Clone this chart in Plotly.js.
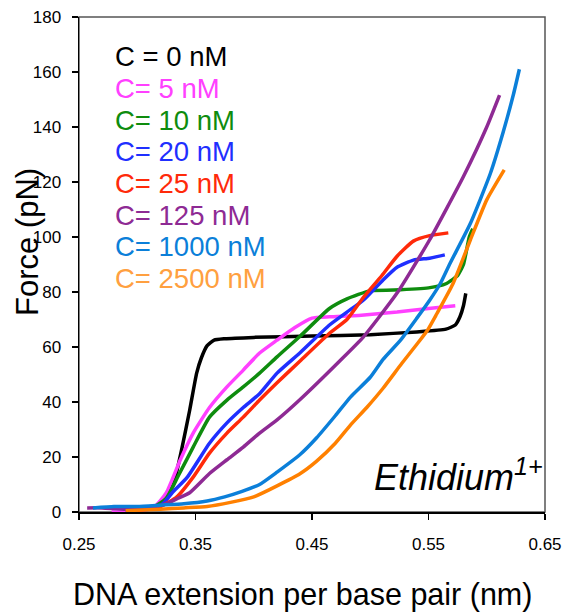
<!DOCTYPE html>
<html>
<head>
<meta charset="utf-8">
<script src="https://cdn.plot.ly/plotly-3.0.1.min.js"></script>
<style>html,body{margin:0;padding:0;background:#fff;}#chart{width:562px;height:614px;}</style>
</head>
<body>
<div id="chart"></div>
<script>
// ---- data ----
const seriesNames = ["C = 0 nM", "C= 5 nM", "C= 10 nM", "C= 20 nM", "C= 25 nM", "C= 125 nM", "C= 1000 nM", "C= 2500 nM"];
const lineColors = ["#000000", "#ff40ff", "#0e8c0e", "#1f2fff", "#ff2a0a", "#8e2a94", "#0b7fd9", "#ff8000"];
const labelColors = ["#000000", "#ff40ff", "#0e8c0e", "#1f2fff", "#ff2a0a", "#8e2a94", "#0b7fd9", "#ffa040"];

const x0 = [0.30, 0.31, 0.32, 0.326, 0.332, 0.338, 0.345, 0.351, 0.355, 0.36, 0.366, 0.375, 0.40, 0.45, 0.50, 0.54, 0.565, 0.573, 0.577, 0.58, 0.582];
const y0 = [1, 1.5, 3, 6, 11.5, 22.5, 37, 50.5, 56, 60.5, 62.5, 63, 63.5, 64, 64.5, 65.5, 66.5, 68, 71, 75, 79.5];

const x5 = [0.278, 0.30, 0.315, 0.325, 0.337, 0.348, 0.362, 0.377, 0.391, 0.405, 0.42, 0.435, 0.45, 0.465, 0.49, 0.523, 0.55, 0.573];
const y5 = [0, 0.5, 2, 7, 19, 28.7, 38, 45.5, 51.6, 57.8, 62.5, 67, 70.5, 71, 71.5, 72.7, 74, 75];

const x10 = [0.30, 0.315, 0.325, 0.335, 0.348, 0.362, 0.377, 0.391, 0.405, 0.42, 0.44, 0.465, 0.48, 0.50, 0.52, 0.55, 0.565, 0.575, 0.58, 0.585, 0.588];
const y10 = [1, 2, 5, 13, 23.6, 34.5, 40.7, 45.5, 50.5, 56.4, 64, 74, 77.5, 80.5, 80.7, 81.5, 83, 86, 90, 100, 103];

const x20 = [0.29, 0.31, 0.322, 0.33, 0.343, 0.362, 0.377, 0.391, 0.405, 0.42, 0.44, 0.465, 0.48, 0.494, 0.511, 0.523, 0.537, 0.551, 0.564];
const y20 = [0.5, 1, 3, 7, 12.7, 25, 32.4, 38, 43, 50.5, 58, 68, 72.7, 77, 84.4, 89, 91.6, 92.3, 93.5];

const x25 = [0.30, 0.32, 0.334, 0.348, 0.362, 0.377, 0.391, 0.405, 0.42, 0.44, 0.465, 0.48, 0.494, 0.51, 0.523, 0.537, 0.551, 0.567];
const y25 = [0.5, 2, 5.5, 12.7, 21.4, 28.7, 34.5, 40.7, 47, 55, 65, 70, 78, 86, 93, 98.5, 100.5, 101.5];

const x125 = [0.257, 0.27, 0.29, 0.31, 0.325, 0.335, 0.345, 0.362, 0.377, 0.391, 0.405, 0.42, 0.44, 0.474, 0.494, 0.523, 0.551, 0.58, 0.60, 0.611];
const y125 = [1.5, 1.5, 1, 1.5, 3, 5, 7, 14, 19, 23.6, 28.7, 33.5, 41, 55, 63.6, 79.6, 99, 122, 140, 151.6];

const x1000 = [0.262, 0.28, 0.30, 0.32, 0.34, 0.36, 0.375, 0.39, 0.405, 0.42, 0.44, 0.454, 0.47, 0.483, 0.50, 0.511, 0.526, 0.54, 0.551, 0.56, 0.568, 0.586, 0.603, 0.614, 0.623, 0.628];
const y1000 = [1.5, 2, 2, 2.5, 3, 4, 5.5, 7.5, 10, 14.5, 21, 27, 35, 41.8, 49, 55.5, 62.5, 70.5, 77, 83, 90, 105, 123, 138, 152, 161];

const x2500 = [0.29, 0.32, 0.34, 0.36, 0.38, 0.40, 0.42, 0.44, 0.454, 0.47, 0.483, 0.497, 0.511, 0.527, 0.54, 0.549, 0.557, 0.571, 0.586, 0.60, 0.615];
const y2500 = [0.5, 1, 1.5, 2, 3.5, 5.5, 9.5, 14, 18.5, 25, 31.6, 38, 45, 54, 61, 66, 72, 83, 99, 113.5, 124.4];

const xTicks = [0.25, 0.35, 0.45, 0.55, 0.65];
const yTicks = [0, 20, 40, 60, 80, 100, 120, 140, 160, 180];
const xTitle = "DNA extension per base pair (nm)";
const yTitle = "Force (pN)";
const ionLabel = "<i>Ethidium<sup>1+</sup></i>";

// ---- build ----
const xs = [x0, x5, x10, x20, x25, x125, x1000, x2500];
const ys = [y0, y5, y10, y20, y25, y125, y1000, y2500];
const FONT = "Liberation Sans, Arial, sans-serif";

const traces = xs.map((x, i) => ({
  x: x, y: ys[i], type: "scatter", mode: "lines", name: seriesNames[i],
  line: {color: lineColors[i], width: 3.5, shape: "spline", smoothing: 0.5},
  hoverinfo: "skip"
}));

const annotations = seriesNames.map((n, i) => ({
  text: n, xref: "paper", yref: "paper", x: 0.074, y: (512 - (57 + i * 31.6)) / 495,
  xanchor: "left", yanchor: "middle", showarrow: false,
  font: {family: FONT, size: 27.5, color: labelColors[i]}
}));
annotations.push({
  text: ionLabel, xref: "paper", yref: "paper", x: 1.0, y: 0.025,
  xanchor: "right", yanchor: "bottom", showarrow: false,
  font: {family: FONT, size: 36, color: "#000"}
});
annotations.push({
  text: xTitle, xref: "paper", yref: "paper", x: (302 - 79) / 466, y: -(594 - 512) / 495,
  xanchor: "center", yanchor: "middle", showarrow: false,
  font: {family: FONT, size: 30.5, color: "#000"}
});
annotations.push({
  text: yTitle, xref: "paper", yref: "paper", x: -(79 - 27) / 466, y: (512 - 242) / 495,
  xanchor: "center", yanchor: "middle", showarrow: false, textangle: -90,
  font: {family: FONT, size: 31, color: "#000"}
});

const layout = {
  width: 562, height: 614,
  margin: {l: 79, r: 17, t: 17, b: 102},
  paper_bgcolor: "#fff", plot_bgcolor: "#fff",
  showlegend: false,
  xaxis: {
    range: [0.25, 0.65], tickvals: xTicks, ticktext: xTicks.map(v => v.toFixed(2)),
    ticks: "outside", ticklen: 6, tickwidth: 1.5, tickcolor: "#000",
    showline: true, linecolor: "#000", linewidth: 1.5,
    showgrid: false, zeroline: false, ticklabelstandoff: 10,
    tickfont: {family: FONT, size: 17, color: "#000"}
  },
  yaxis: {
    range: [0, 180], tickvals: yTicks,
    ticks: "outside", ticklen: 6, tickwidth: 1.5, tickcolor: "#000",
    showline: true, linecolor: "#000", linewidth: 1.5,
    showgrid: false, zeroline: false, ticklabelstandoff: 7,
    tickfont: {family: FONT, size: 17, color: "#000"}
  },
  shapes: [{
    type: "rect", xref: "paper", yref: "paper", x0: 0, x1: 1, y0: 0, y1: 1,
    line: {color: "#555", width: 1.5}, layer: "below"
  }],
  annotations: annotations
};

Plotly.newPlot("chart", traces, layout, {staticPlot: true, displayModeBar: false});
</script>
</body>
</html>
